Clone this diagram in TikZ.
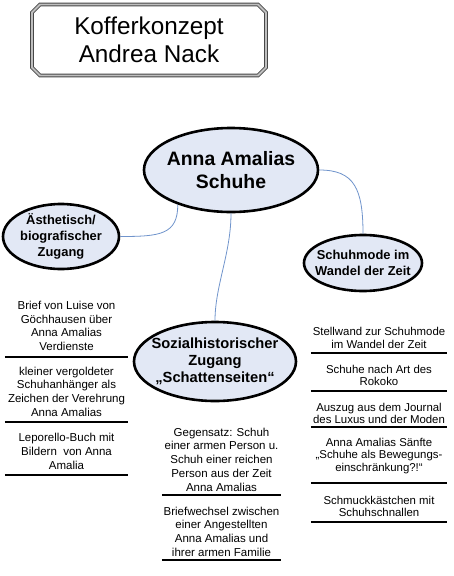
\documentclass[tikz,border=0pt]{standalone}
\usepackage{fontspec}
\setmainfont{Liberation Sans}
\usetikzlibrary{shapes.geometric,shapes.misc}

\definecolor{linkblue}{RGB}{112,148,204}
\definecolor{bubblefill}{RGB}{226,232,245}

\begin{document}
\begin{tikzpicture}[x=1pt,y=-1pt]
\tikzset{
  titlebox/.style={chamfered rectangle, chamfered rectangle xsep=4pt, chamfered rectangle ysep=4pt,
    draw=black!72, line width=0.9pt, double=gray!50, double distance=1.8pt,
    minimum width=234pt, minimum height=71pt, align=center, font=\fontsize{24.3}{28}\selectfont},
  bubble/.style={ellipse, draw=black, fill=bubblefill, line width=2.6pt, inner sep=-12pt, align=center},
  link/.style={draw=linkblue, line width=0.8pt},
  item/.style={inner xsep=0pt, inner ysep=0pt, align=center, font=\fontsize{11.5}{13.7}\selectfont},
  ritem/.style={item, minimum width=136pt, font=\fontsize{11.4}{12.8}\selectfont},
  rule/.style={draw=black, line width=2.9pt}
}
\useasboundingbox (0,0) rectangle (453,576);
\fill[white] (0,0) rectangle (453,576);

\node[titlebox] (title) at (149,40) {Kofferkonzept\\Andrea Nack};

\node[bubble, minimum width=174pt, minimum height=84pt, font=\fontsize{19.4}{23}\selectfont\bfseries]
  (kern) at (231,170) {Anna Amalias\\Schuhe};
\node[bubble, minimum width=116pt, minimum height=65pt, font=\fontsize{12.9}{15.8}\selectfont\bfseries]
  (aesth) at (61,236.5) {Ästhetisch/\\biografischer\\Zugang};
\node[bubble, minimum width=118pt, minimum height=56pt, font=\fontsize{12.9}{16}\selectfont\bfseries]
  (mode) at (363,263) {Schuhmode im\\Wandel der Zeit};
\node[bubble, minimum width=162pt, minimum height=79pt, font=\fontsize{14.7}{17}\selectfont\bfseries]
  (sozial) at (215,361.5) {Sozialhistorischer\\Zugang\\„Schattenseiten“};

\draw[link] (kern.213) .. controls +(0,30) and +(40,0) .. (aesth.east);
\draw[link] (kern.east) .. controls +(35,0) and +(0,-45) .. (mode.north);
\draw[link] (kern.south) .. controls +(0,40) and +(0,-35) .. (sozial.north);

\node[item, minimum width=123pt] (l1) at (66.5,326) {Brief von Luise von\\Göchhausen über\\Anna Amalias\\Verdienste};
\node[item, minimum width=123pt] (l2) at (66.5,391.5) {kleiner vergoldeter\\Schuhanhänger als\\Zeichen der Verehrung\\Anna Amalias};
\node[item, minimum width=123pt] (l3) at (66.5,451.5) {Leporello-Buch mit\\Bildern\ \ von Anna\\Amalia};

\node[item, minimum width=119pt] (m1) at (221.5,459.5) {Gegensatz: Schuh\\einer armen Person u.\\Schuh einer reichen\\Person aus der Zeit\\Anna Amalias};
\node[item, minimum width=119pt] (m2) at (221.5,531.5) {Briefwechsel zwischen\\einer Angestellten\\Anna Amalias und\\ihrer armen Familie};

\node[ritem] (r1) at (379,338) {Stellwand zur Schuhmode\\im Wandel der Zeit};
\node[ritem] (r2) at (379,375.5) {Schuhe nach Art des\\Rokoko};
\node[ritem] (r3) at (379,413.5) {Auszug aus dem Journal\\des Luxus und der Moden};
\node[ritem] (r4) at (379,456) {Anna Amalias Sänfte\\„Schuhe als Bewegungs-\\einschränkung?!“};
\node[ritem] (r5) at (379,506.5) {Schmuckkästchen mit\\Schuhschnallen};

\foreach \n/\y in {l1/357,l2/422,l3/475,m1/495,m2/560,r1/353,r2/391,r3/427,r4/483,r5/522}
  \draw[rule] (\n.west |- 0,\y) -- (\n.east |- 0,\y);
\end{tikzpicture}
\end{document}
